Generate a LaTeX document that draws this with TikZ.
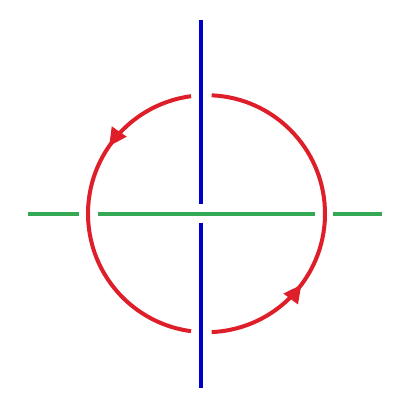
\documentclass[tikz,border=0pt]{standalone}
\usetikzlibrary{arrows.meta,decorations.markings}
\definecolor{axisblue}{RGB}{0,0,204}
\definecolor{axisgreen}{RGB}{52,168,83}
\definecolor{loopred}{RGB}{222,30,40}
\tikzset{
  blueline/.style={draw=axisblue,line width=4pt},
  greenline/.style={draw=axisgreen,line width=4pt},
  redarc/.style={draw=loopred,line width=4pt,
    postaction={decorate,decoration={markings,
      mark=at position 0.29 with {\arrow[loopred]{Triangle[length=18pt,width=17pt]}}}}}
}
\begin{document}
\begin{tikzpicture}[x=1pt,y=1pt]
\useasboundingbox (0,0) rectangle (414,406);
% blue vertical line with gap at crossing
\draw[blueline] (200.7,386) -- (200.7,201.7);
\draw[blueline] (200.7,182.7) -- (200.7,18);
% green horizontal line with gaps at circle
\draw[greenline] (28,192.2) -- (79.3,192.2);
\draw[greenline] (98.3,192.2) -- (315,192.2);
\draw[greenline] (333.3,192.2) -- (382,192.2);
% red circle as two arcs, counterclockwise
\coordinate (c) at (206.5,192.3);
\draw[redarc] ([shift={(97.5:118.5)}]c) arc[start angle=97.5,end angle=262.5,radius=118.5];
\draw[redarc] ([shift={(-87.5:118.5)}]c) arc[start angle=-87.5,end angle=87.5,radius=118.5];
\end{tikzpicture}
\end{document}
